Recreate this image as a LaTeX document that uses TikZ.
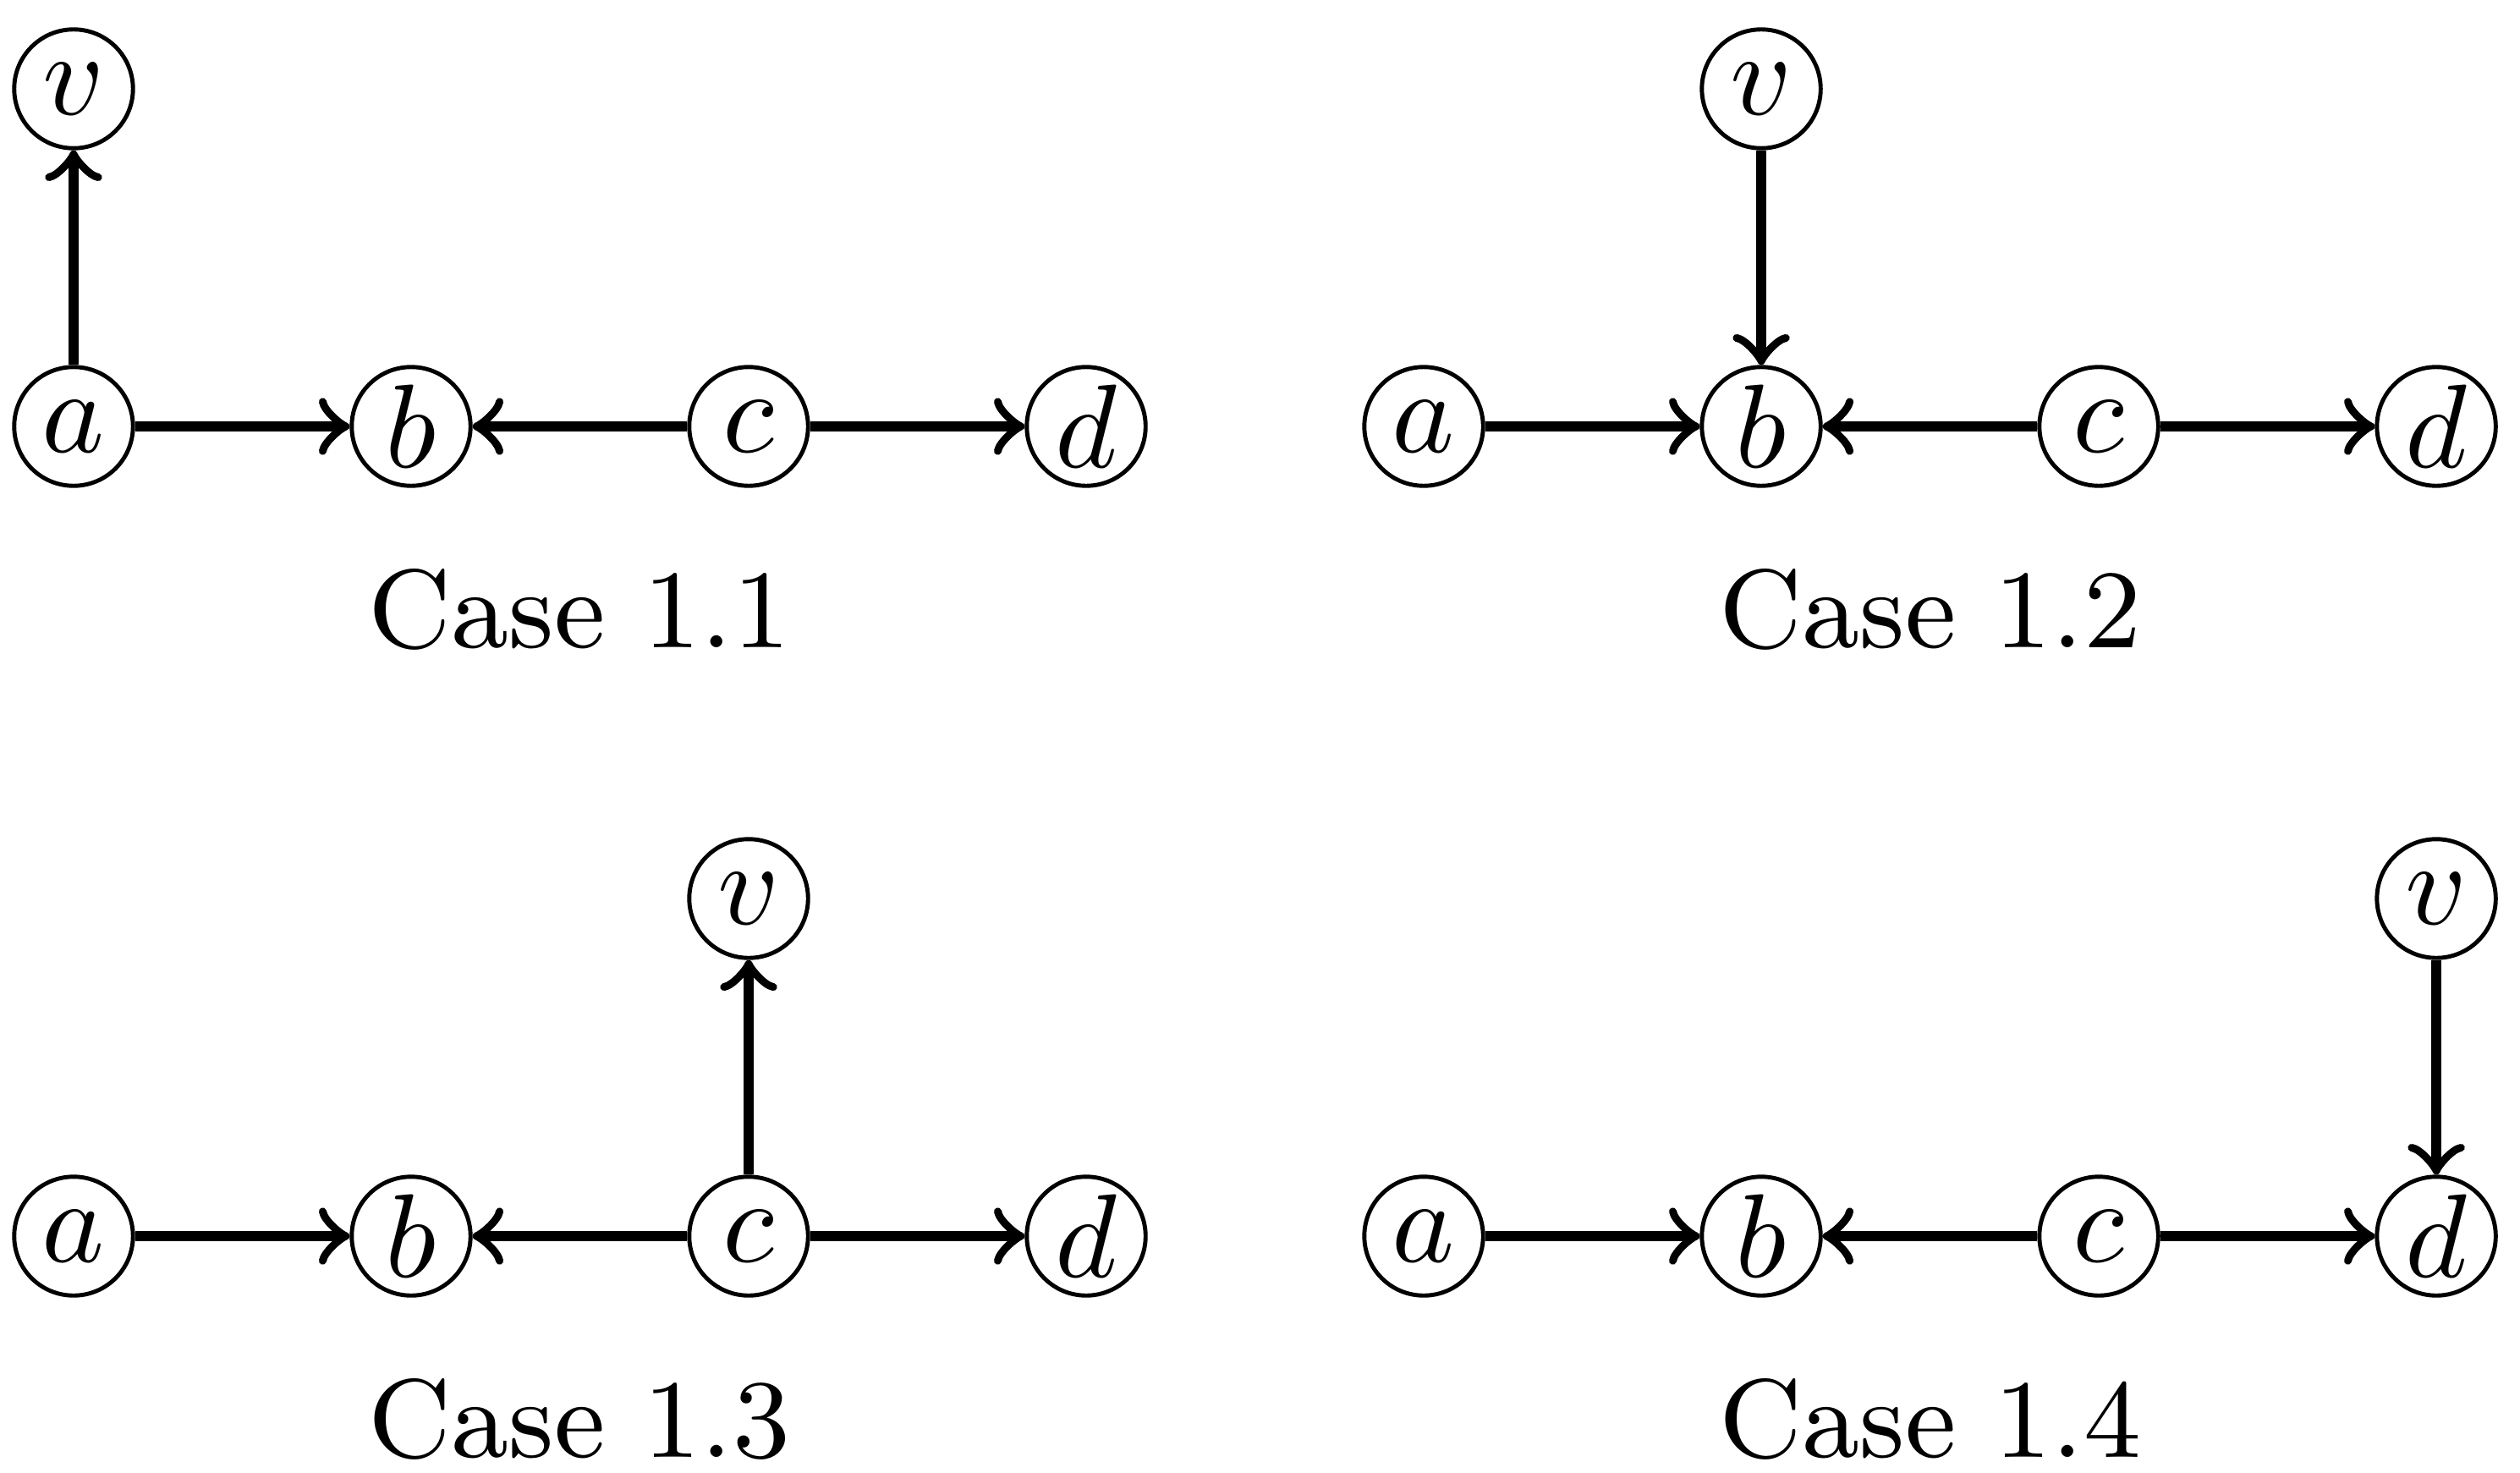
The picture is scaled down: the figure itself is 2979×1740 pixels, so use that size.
\documentclass[tikz,border=0pt]{standalone}
\begin{document}
\begin{tikzpicture}[x=0.0025cm,y=-0.0025cm,
  vtx/.style={circle,draw,line width=0.35pt,minimum size=10pt,inner sep=0pt},
  edg/.style={->,thick},
  caselabel/.style={anchor=base,font=\fontsize{9.4}{11}\selectfont}]
\useasboundingbox (0,0) rectangle (2979,1740);
% Case 1.1
\node[vtx] (a1) at (87,504) {$a$};
\node[vtx] (b1) at (486,504) {$b$};
\node[vtx] (c1) at (885,504) {$c$};
\node[vtx] (d1) at (1284,504) {$d$};
\node[vtx] (v1) at (87,105) {$v$};
\draw[edg] (a1) -- (b1);
\draw[edg] (c1) -- (b1);
\draw[edg] (c1) -- (d1);
\draw[edg] (a1) -- (v1);
\node[caselabel] (t1) at (685,765) {Case 1.1};
% Case 1.2
\node[vtx] (a2) at (1683,504) {$a$};
\node[vtx] (b2) at (2082,504) {$b$};
\node[vtx] (c2) at (2481,504) {$c$};
\node[vtx] (d2) at (2880,504) {$d$};
\node[vtx] (v2) at (2082,105) {$v$};
\draw[edg] (a2) -- (b2);
\draw[edg] (c2) -- (b2);
\draw[edg] (c2) -- (d2);
\draw[edg] (v2) -- (b2);
\node[caselabel] (t2) at (2282,765) {Case 1.2};
% Case 1.3
\node[vtx] (a3) at (87,1461) {$a$};
\node[vtx] (b3) at (486,1461) {$b$};
\node[vtx] (c3) at (885,1461) {$c$};
\node[vtx] (d3) at (1284,1461) {$d$};
\node[vtx] (v3) at (885,1062) {$v$};
\draw[edg] (a3) -- (b3);
\draw[edg] (c3) -- (b3);
\draw[edg] (c3) -- (d3);
\draw[edg] (c3) -- (v3);
\node[caselabel] (t3) at (685,1722) {Case 1.3};
% Case 1.4
\node[vtx] (a4) at (1683,1461) {$a$};
\node[vtx] (b4) at (2082,1461) {$b$};
\node[vtx] (c4) at (2481,1461) {$c$};
\node[vtx] (d4) at (2880,1461) {$d$};
\node[vtx] (v4) at (2880,1062) {$v$};
\draw[edg] (a4) -- (b4);
\draw[edg] (c4) -- (b4);
\draw[edg] (c4) -- (d4);
\draw[edg] (v4) -- (d4);
\node[caselabel] (t4) at (2282,1722) {Case 1.4};
\end{tikzpicture}
\end{document}
